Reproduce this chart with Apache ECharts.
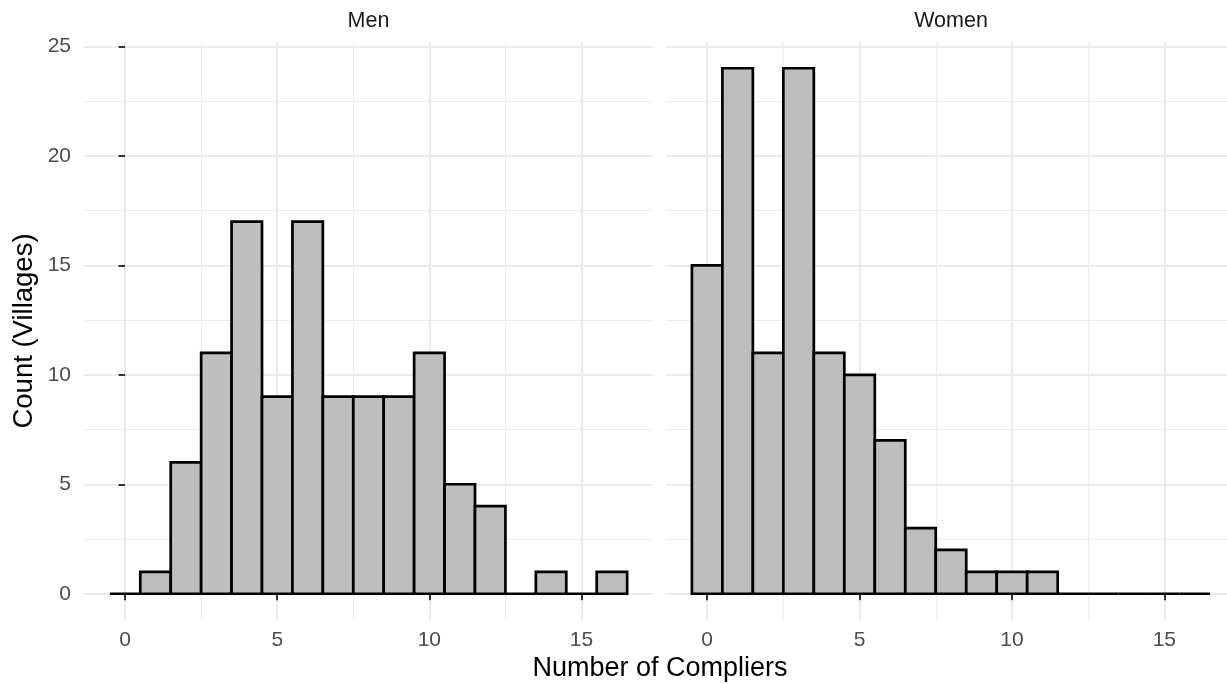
<!DOCTYPE html>
<html><head><meta charset="utf-8">
<script src="https://cdn.jsdelivr.net/npm/echarts@6/dist/echarts.min.js"></script>
<style>html,body{margin:0;padding:0;background:#fff}#c{width:1227px;height:684px}</style>
</head><body><div id="c"></div>
<script>
// ---- data ----
const bins = [0,1,2,3,4,5,6,7,8,9,10,11,12,13,14,15,16];
const menCounts = [0,1,6,11,17,9,17,9,9,9,11,5,4,0,1,0,1];
const womenCounts = [15,24,11,24,11,10,7,3,2,1,1,1,0,0,0,0,0];
const panelNames = ['Men','Women'];
const xMajorTicks = [0,5,10,15];
const xMinorTicks = [2.5,7.5,12.5];
const yMajorTicks = [0,5,10,15,20,25];
const yMinorTicks = [2.5,7.5,12.5,17.5,22.5];
const BIN_WIDTH = 1;
const xTitle = 'Number of Compliers';
const yTitle = 'Count (Villages)';

// ---- styling / layout ----
const FONT = "'Liberation Sans', Arial, Helvetica, sans-serif";
const X_MIN = -1.35, X_MAX = 17.35, Y_MIN = -1.2, Y_MAX = 25.2;
const PANEL_W = 570, CANVAS_W = 1227;
const grids = [
  {left: 84, top: 42, width: 569, height: 578},
  {left: 666, top: 42, width: CANVAS_W - 666, height: 578}
];
// the right panel runs past the picture edge: keep the same scale, show the visible part
const xMaxRight = X_MIN + (X_MAX - X_MIN) * (CANVAS_W - 666) / PANEL_W;
const gridColor = '#EBEBEB';

function majorX(gi, max){
  return {type:'value', gridIndex: gi, min: X_MIN, max: max,
    axisLine:{show:false},
    axisTick:{show:true, length:6.5, lineStyle:{color:'#333333', width:2}, customValues: xMajorTicks},
    axisLabel:{show:true, customValues: xMajorTicks, color:'#4D4D4D', fontSize:21, fontFamily:FONT, margin:20, verticalAlign:'middle'},
    splitLine:{show:true, lineStyle:{color:gridColor, width:2.2}}
  };
}
function minorX(gi, max){
  return {type:'value', gridIndex: gi, min: X_MIN, max: max,
    axisLine:{show:false},
    axisTick:{show:false, customValues: xMinorTicks},
    axisLabel:{show:false},
    splitLine:{show:true, lineStyle:{color:gridColor, width:1.1}}
  };
}
function majorY(gi, labels){
  return {type:'value', gridIndex: gi, min: Y_MIN, max: Y_MAX,
    axisLine:{show:false},
    axisTick:{show:labels, length:6.5, lineStyle:{color:'#333333', width:2}, customValues: yMajorTicks},
    axisLabel:{show:labels, customValues: yMajorTicks, color:'#4D4D4D', fontSize:21, fontFamily:FONT, margin:13},
    splitLine:{show:true, lineStyle:{color:gridColor, width:2.2}}
  };
}
function minorY(gi){
  return {type:'value', gridIndex: gi, min: Y_MIN, max: Y_MAX,
    axisLine:{show:false},
    axisTick:{show:false, customValues: yMinorTicks},
    axisLabel:{show:false},
    splitLine:{show:true, lineStyle:{color:gridColor, width:1.1}}
  };
}

function histSeries(counts, idx){
  return {
    type:'custom', xAxisIndex: idx, yAxisIndex: idx, z: 5,
    data: bins.map((b,i)=>[b, counts[i]]),
    renderItem(params, api){
      const x = api.value(0), y = api.value(1);
      const p0 = api.coord([x - BIN_WIDTH/2, y]);
      const p1 = api.coord([x + BIN_WIDTH/2, 0]);
      return {type:'rect',
        shape:{x:p0[0], y:p0[1], width:p1[0]-p0[0], height:p1[1]-p0[1]},
        style:{fill:'#BEBEBE', stroke:'#000000', lineWidth:2.7}};
    }
  };
}

const chart = echarts.init(document.getElementById('c'), null, {renderer:'canvas'});
chart.setOption({
  animation:false,
  backgroundColor:'#FFFFFF',
  grid: grids,
  xAxis: [majorX(0, X_MAX), majorX(1, xMaxRight), minorX(0, X_MAX), minorX(1, xMaxRight)],
  yAxis: [majorY(0,true), majorY(1,false), minorY(0), minorY(1)],
  series: [histSeries(menCounts,0), histSeries(womenCounts,1)],
  graphic: [
    {type:'text', x: grids[0].left + grids[0].width/2, y: 21, style:{text: panelNames[0], font:`21.5px ${FONT}`, fill:'#1A1A1A', align:'center', verticalAlign:'middle'}},
    {type:'text', x: grids[1].left + PANEL_W/2, y: 21, style:{text: panelNames[1], font:`21.5px ${FONT}`, fill:'#1A1A1A', align:'center', verticalAlign:'middle'}},
    {type:'text', x: (grids[0].left + grids[1].left + PANEL_W)/2, y: 669, style:{text: xTitle, font:`27px ${FONT}`, fill:'#000000', align:'center', verticalAlign:'middle'}},
    {type:'text', x: 24, y: grids[0].top + grids[0].height/2, rotation: Math.PI/2, style:{text: yTitle, font:`27.5px ${FONT}`, fill:'#000000', align:'center', verticalAlign:'middle'}}
  ]
});
</script>
</body></html>
